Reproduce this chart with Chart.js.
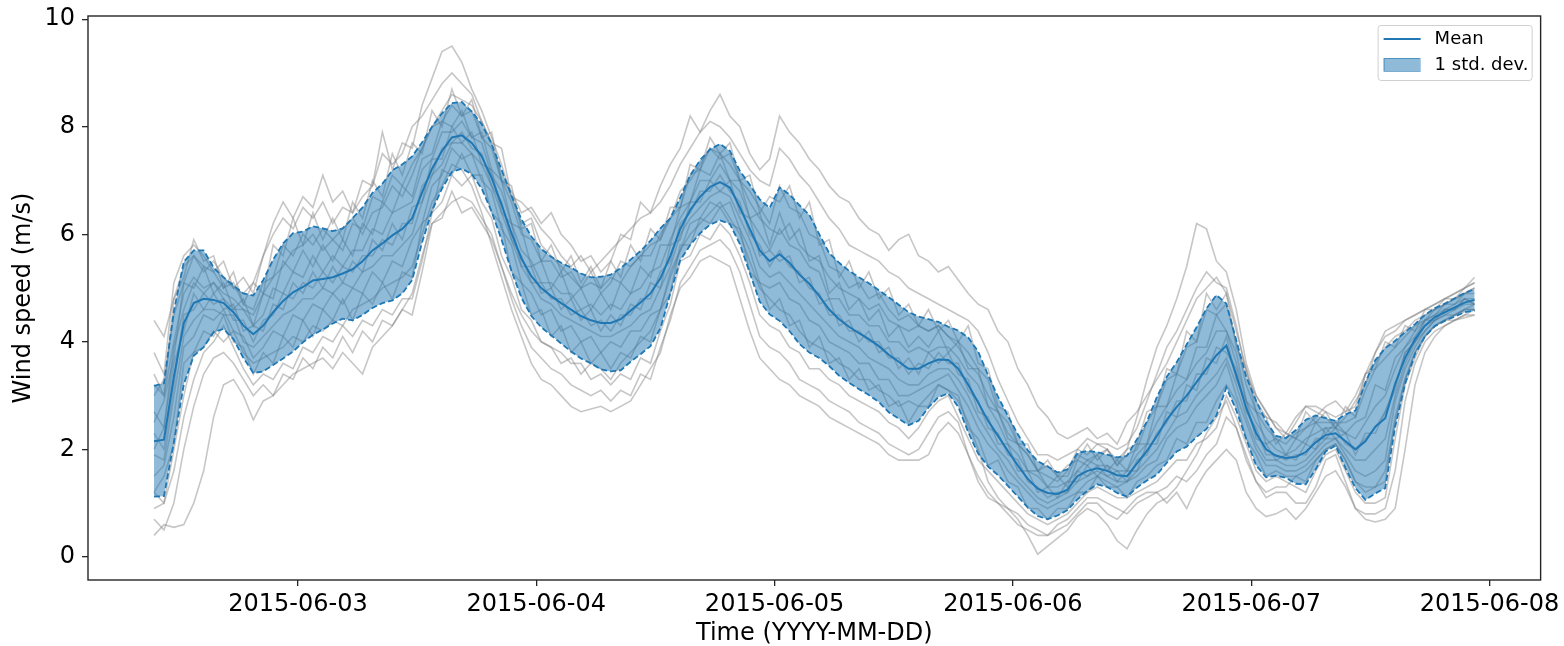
<!DOCTYPE html>
<html>
<head>
<meta charset="utf-8">
<script src="https://cdn.jsdelivr.net/npm/chart.js@4.4.1/dist/chart.umd.min.js"></script>
<style>
  html, body { margin: 0; padding: 0; background: #fff; }
  #wrap { width: 1564px; height: 646px; }
</style>
</head>
<body>
<div id="wrap"><canvas id="windChart" width="1564" height="646"></canvas></div>
<script>
// hourly samples, first one at 2015-06-02 09:30 (hours counted from 2015-06-02 00:00)
const firstSampleHour = 9.5;
const stepHours = 1;

const dayTickHours = [24, 48, 72, 96, 120, 144];
const dayTickLabels = ['2015-06-03', '2015-06-04', '2015-06-05', '2015-06-06', '2015-06-07', '2015-06-08'];
const yTickValues = [0, 2, 4, 6, 8, 10];

const meanSpeed = [
  2.15, 2.18, 3.35, 4.35, 4.72, 4.80, 4.78, 4.72, 4.55, 4.30,
  4.14, 4.30, 4.55, 4.76, 4.92, 5.02, 5.14, 5.17, 5.20, 5.27,
  5.35, 5.50, 5.70, 5.83, 5.98, 6.10, 6.30, 6.78, 7.22, 7.55,
  7.80, 7.84, 7.70, 7.45, 7.05, 6.55, 6.02, 5.55, 5.22, 5.00,
  4.85, 4.72, 4.60, 4.48, 4.40, 4.35, 4.35, 4.42, 4.58, 4.73,
  4.90, 5.18, 5.60, 6.10, 6.45, 6.70, 6.88, 6.97, 6.87, 6.50,
  6.10, 5.70, 5.50, 5.63, 5.47, 5.25, 5.08, 4.85, 4.60, 4.42,
  4.28, 4.16, 4.05, 3.92, 3.76, 3.63, 3.50, 3.50, 3.60, 3.67,
  3.66, 3.50, 3.20, 2.87, 2.53, 2.25, 1.97, 1.70, 1.45, 1.27,
  1.19, 1.17, 1.25, 1.50, 1.60, 1.65, 1.60, 1.52, 1.50, 1.74,
  1.97, 2.25, 2.55, 2.79, 3.00, 3.25, 3.50, 3.75, 3.93, 3.38,
  2.77, 2.30, 2.00, 1.88, 1.84, 1.86, 1.95, 2.13, 2.27, 2.30,
  2.15, 2.00, 2.15, 2.42, 2.58, 3.22, 3.70, 4.05, 4.30, 4.46,
  4.55, 4.64, 4.73, 4.78
];

const stdSpeed = [
  1.03, 1.05, 1.22, 1.14, 0.98, 0.90, 0.60, 0.48, 0.50, 0.60,
  0.72, 0.85, 0.98, 1.07, 1.10, 1.03, 1.01, 0.94, 0.86, 0.84,
  0.95, 1.00, 1.07, 1.11, 1.21, 1.20, 1.15, 0.93, 0.78, 0.70,
  0.64, 0.62, 0.58, 0.60, 0.63, 0.65, 0.70, 0.73, 0.74, 0.73,
  0.73, 0.75, 0.78, 0.79, 0.80, 0.86, 0.90, 0.95, 0.95, 0.96,
  0.98, 0.93, 0.70, 0.58, 0.65, 0.68, 0.70, 0.71, 0.68, 0.68,
  0.82, 0.95, 0.99, 1.24, 1.27, 1.29, 1.28, 1.15, 1.05, 1.05,
  1.04, 1.04, 1.04, 1.04, 1.07, 1.06, 1.05, 0.97, 0.82, 0.70,
  0.62, 0.71, 0.88, 0.95, 0.85, 0.73, 0.65, 0.58, 0.53, 0.51,
  0.49, 0.40, 0.38, 0.43, 0.37, 0.30, 0.30, 0.33, 0.38, 0.45,
  0.55, 0.72, 0.80, 0.83, 0.95, 1.02, 1.12, 1.12, 0.78, 0.65,
  0.58, 0.60, 0.52, 0.37, 0.37, 0.50, 0.60, 0.50, 0.31, 0.23,
  0.50, 0.72, 1.09, 1.24, 1.30, 0.80, 0.48, 0.28, 0.20, 0.17,
  0.16, 0.17, 0.18, 0.20
];

// individual ensemble members (grey lines)
const member01 = [
  4.4, 4.1, 4.8, 5.4, 5.6, 5.3, 5.5, 5.2, 5.0, 4.9, 5.1,
  5.6, 6.2, 6.6, 6.3, 6.7, 6.5, 7.1, 6.6, 6.8, 6.4,
  6.7, 6.9, 7.9, 7.2, 7.7, 7.6, 8.4, 8.9, 9.4, 9.5,
  9.2, 8.7, 8.3, 7.8, 7.3, 6.7, 6.2, 6.3, 5.8, 5.6,
  5.4, 5.2, 5.0, 5.3, 4.9, 5.1, 5.5, 5.4, 5.6, 5.8,
  5.9, 6.3, 6.8, 7.0, 7.3, 7.6, 7.5, 7.3, 7.0, 6.6,
  6.3, 6.1, 6.0, 6.2, 5.8, 5.6, 5.5, 5.2, 5.0, 4.9,
  4.8, 4.6, 4.7, 4.4, 4.3, 4.2, 4.3, 4.2, 4.3, 4.1,
  3.9, 3.6, 3.4, 3.0, 2.7, 2.3, 2.1, 1.9, 1.6, 1.5,
  1.4, 1.6, 2.0, 1.9, 2.1, 2.0, 1.8, 2.0, 2.6, 3.3,
  3.9, 4.3, 4.8, 5.4, 6.2, 6.1, 5.5, 5.3, 4.6, 3.6,
  3.0, 2.7, 2.4, 2.2, 2.5, 2.8, 2.7, 2.6, 2.4, 2.6,
  2.9, 3.2, 3.8, 4.2, 4.3, 4.4, 4.5, 4.6, 4.7, 4.8,
  4.9, 5.0, 5.1
];
const member02 = [
  3.2, 3.0, 4.0, 4.9, 5.2, 5.0, 5.1, 4.9, 4.8, 4.6, 4.5,
  4.9, 5.2, 5.4, 5.7, 5.8, 6.0, 5.7, 5.9, 6.1, 6.3,
  6.0, 6.4, 6.5, 6.9, 6.7, 7.1, 7.6, 8.0, 8.3, 8.6,
  8.5, 8.4, 8.1, 7.7, 7.0, 6.8, 6.4, 6.5, 6.2, 6.4,
  6.0, 5.8, 5.5, 5.6, 5.3, 5.5, 6.0, 5.9, 6.6, 6.4,
  6.9, 7.3, 7.6, 8.2, 7.9, 8.3, 8.6, 8.2, 8.0, 7.5,
  7.2, 7.4, 8.2, 7.9, 7.7, 7.4, 7.2, 6.9, 6.7, 6.6,
  6.3, 6.1, 6.0, 5.7, 5.9, 6.0, 5.6, 5.5, 5.3, 5.4,
  5.15, 4.9, 4.7, 4.6, 4.2, 4.0, 3.5, 3.2, 2.8, 2.6,
  2.3, 2.2, 2.3, 2.4, 2.2, 2.3, 2.1, 2.5, 2.7, 3.0,
  3.3, 3.6, 4.0, 4.4, 4.8, 5.0, 5.2, 4.9, 4.2, 3.5,
  2.9, 2.6, 2.5, 2.3, 2.2, 2.4, 2.6, 2.8, 2.9, 2.7,
  3.0, 3.4, 3.6, 3.9, 4.1, 4.2, 4.4, 4.5, 4.6, 4.7,
  4.8, 4.9, 5.0
];
const member03 = [
  3.0, 3.3, 4.5, 5.1, 5.6, 5.4, 5.3, 5.0, 5.1, 4.7, 4.6,
  5.1, 5.2, 5.8, 5.6, 6.0, 5.8, 6.1, 5.9, 5.7, 6.2,
  6.1, 6.7, 6.6, 7.1, 6.9, 7.3, 7.6, 8.0, 8.1, 8.4,
  8.2, 8.3, 7.8, 7.6, 7.0, 6.6, 6.0, 5.9, 5.5, 5.5,
  5.2, 5.3, 5.0, 5.1, 5.0, 5.2, 5.1, 5.4, 5.6, 5.6,
  6.0, 6.3, 6.5, 7.1, 7.2, 7.6, 7.4, 7.5, 7.0, 6.8,
  6.5, 6.2, 6.9, 6.5, 6.4, 6.0, 5.9, 5.4, 5.3, 5.0,
  5.1, 4.8, 4.9, 4.6, 4.4, 4.5, 4.3, 4.2, 4.3, 4.1,
  4.0, 3.8, 3.5, 3.3, 2.7, 2.5, 2.1, 1.9, 1.6, 1.7,
  1.5, 1.5, 1.9, 1.8, 1.9, 2.0, 1.7, 1.9, 2.0, 2.5,
  2.8, 3.3, 3.4, 3.9, 4.0, 4.6, 4.5, 4.7, 4.0, 3.2,
  2.7, 2.4, 2.2, 2.1, 2.3, 2.4, 2.5, 2.5, 2.5, 2.5,
  2.6, 3.1, 3.5, 3.7, 3.9, 4.1, 4.3, 4.4, 4.6, 4.7,
  4.8, 4.9, 5.0
];
const member04 = [
  2.3, 2.0, 3.2, 4.5, 4.6, 4.9, 4.7, 4.8, 4.4, 4.4, 4.0,
  4.4, 4.5, 4.9, 4.8, 5.1, 5.0, 5.3, 5.1, 5.4, 5.3,
  5.6, 5.6, 5.9, 5.8, 6.2, 6.2, 6.9, 7.1, 7.6, 7.7,
  7.9, 7.6, 7.5, 6.9, 6.6, 5.9, 5.6, 5.1, 5.1, 4.8,
  4.8, 4.5, 4.6, 4.3, 4.4, 4.2, 4.5, 4.5, 4.8, 4.8,
  5.3, 5.5, 6.2, 6.4, 6.8, 6.8, 7.1, 6.8, 6.6, 6.0,
  5.8, 5.4, 5.7, 5.4, 5.3, 5.0, 4.9, 4.5, 4.5, 4.2,
  4.2, 4.0, 4.0, 3.7, 3.7, 3.4, 3.6, 3.5, 3.8, 3.6,
  3.6, 3.1, 2.9, 2.4, 2.3, 1.9, 1.8, 1.4, 1.3, 1.1,
  1.2, 1.2, 1.6, 1.5, 1.7, 1.5, 1.6, 1.4, 1.8, 1.9,
  2.3, 2.5, 2.9, 2.9, 3.4, 3.4, 3.9, 3.8, 3.5, 2.7,
  2.4, 1.9, 1.9, 1.8, 1.9, 1.9, 2.2, 2.2, 2.4, 2.1,
  2.0, 2.2, 2.4, 2.7, 3.2, 3.8, 4.0, 4.3, 4.4, 4.6,
  4.6, 4.8, 4.7
];
const member05 = [
  1.5, 1.7, 2.6, 3.9, 4.1, 4.5, 4.4, 4.6, 4.2, 4.1, 3.7,
  3.9, 4.2, 4.1, 4.5, 4.4, 4.7, 4.6, 4.9, 4.7, 5.0,
  4.9, 5.3, 5.1, 5.5, 5.4, 5.9, 6.2, 6.9, 7.1, 7.6,
  7.4, 7.5, 7.0, 6.8, 6.1, 5.8, 5.1, 4.9, 4.5, 4.6,
  4.2, 4.3, 4.0, 4.1, 3.8, 4.0, 3.9, 4.2, 4.2, 4.5,
  4.6, 5.3, 5.7, 6.2, 6.3, 6.6, 6.5, 6.6, 6.1, 5.7,
  5.1, 5.0, 5.1, 4.8, 4.7, 4.4, 4.3, 4.0, 3.9, 3.8,
  3.6, 3.6, 3.3, 3.3, 3.0, 3.0, 3.1, 3.2, 3.3, 3.4,
  3.1, 2.8, 2.4, 2.1, 1.9, 1.6, 1.4, 1.2, 1.0, 0.9,
  1.0, 1.1, 1.2, 1.4, 1.5, 1.4, 1.3, 1.4, 1.5, 1.7,
  1.8, 2.2, 2.4, 2.5, 2.8, 3.0, 3.2, 3.6, 3.0, 2.5,
  2.0, 1.7, 1.7, 1.6, 1.6, 1.7, 1.9, 2.1, 2.2, 1.9,
  1.6, 1.5, 1.6, 1.8, 2.9, 3.5, 3.9, 4.2, 4.4, 4.5,
  4.5, 4.6, 4.7
];
const member06 = [
  0.9, 1.0, 1.6, 2.6, 3.3, 3.8, 4.0, 4.3, 3.9, 3.5, 3.2,
  3.4, 3.3, 3.6, 3.5, 3.9, 3.8, 4.1, 4.0, 4.3, 4.1,
  4.4, 4.3, 4.6, 4.5, 4.8, 4.8, 5.5, 6.4, 6.6, 7.1,
  6.9, 7.1, 6.6, 6.3, 5.6, 5.2, 4.6, 4.4, 4.0, 3.9,
  3.8, 3.6, 3.6, 3.3, 3.4, 3.2, 3.4, 3.3, 3.7, 3.6,
  4.2, 4.7, 5.5, 5.6, 6.0, 5.9, 6.2, 6.0, 5.6, 5.1,
  4.5, 4.3, 4.2, 3.9, 3.8, 3.5, 3.5, 3.3, 3.2, 3.0,
  2.9, 2.8, 2.7, 2.5, 2.4, 2.2, 2.4, 2.7, 2.9, 3.0,
  2.6, 2.2, 1.8, 1.6, 1.4, 1.2, 1.0, 0.8, 0.7, 0.6,
  0.7, 0.8, 1.0, 1.2, 1.3, 1.2, 1.1, 1.1, 1.2, 1.3,
  1.4, 1.6, 1.8, 1.8, 2.1, 2.2, 2.4, 3.0, 2.6, 2.1,
  1.6, 1.4, 1.5, 1.4, 1.3, 1.2, 1.6, 1.9, 2.0, 1.6,
  1.2, 1.0, 1.0, 1.1, 2.2, 3.2, 3.7, 4.1, 4.3, 4.4,
  4.4, 4.5, 4.6
];
const member07 = [
  0.4, 0.6, 0.55, 0.6, 1.0, 1.6, 2.6, 3.2, 3.3, 3.0, 2.55,
  2.9, 3.0, 3.2, 3.4, 3.5, 3.6, 3.7, 3.5, 3.8, 3.6,
  3.4, 3.9, 4.1, 4.3, 4.6, 4.5, 5.3, 6.2, 6.3, 6.8,
  6.4, 6.5, 6.2, 5.9, 5.4, 4.9, 4.5, 4.2, 4.0, 3.9,
  3.6, 3.7, 3.4, 3.6, 3.5, 3.3, 3.6, 3.8, 4.0, 4.2,
  4.6, 5.2, 5.7, 6.0, 6.2, 6.4, 6.6, 6.3, 6.0, 5.5,
  5.0, 4.8, 4.6, 4.5, 4.2, 4.0, 3.9, 3.8, 3.6, 3.5,
  3.3, 3.3, 3.1, 3.0, 2.8, 2.9, 2.8, 3.0, 3.2, 3.1,
  2.9, 2.5, 2.0, 1.4, 1.1, 0.9, 0.7, 0.4, 0.05, 0.2,
  0.35, 0.5, 0.75, 0.9, 0.8, 0.6, 0.3, 0.15, 0.5, 0.8,
  1.0, 1.1, 1.3, 1.6, 1.9, 2.3, 2.6, 2.9, 2.4, 1.8,
  1.4, 1.2, 1.3, 1.3, 1.5, 1.6, 1.8, 2.0, 2.1, 1.8,
  1.4, 1.2, 1.3, 1.4, 2.6, 3.3, 3.8, 4.1, 4.3, 4.4,
  4.5, 4.6, 4.6
];
const member08 = [
  1.2, 1.0, 2.0, 3.0, 3.8, 3.9, 4.2, 4.0, 4.2, 3.8, 3.6,
  3.7, 3.8, 3.9, 4.1, 4.0, 4.3, 4.2, 4.4, 4.3, 4.6,
  4.7, 4.8, 5.0, 5.1, 5.2, 5.4, 6.0, 6.6, 6.9, 7.3,
  7.2, 6.9, 6.4, 5.8, 5.2, 4.6, 4.1, 3.6, 3.3, 3.2,
  3.0, 2.8, 2.7, 2.75, 2.8, 2.7, 2.8, 2.9, 3.2, 3.5,
  3.8, 4.5, 5.0, 5.2, 5.5, 5.6, 5.5, 5.4, 4.8, 4.2,
  3.7, 3.5, 3.3, 3.2, 3.0, 2.9, 2.8, 2.6, 2.5, 2.4,
  2.3, 2.2, 2.1, 1.9, 1.8, 1.8, 1.8, 1.9, 2.3, 2.5,
  2.3, 1.9, 1.5, 1.2, 1.0, 0.8, 0.6, 0.5, 0.4, 0.4,
  0.5, 0.6, 0.8, 1.0, 1.0, 0.8, 0.7, 0.9, 1.1, 1.2,
  1.2, 1.0, 1.2, 0.9, 1.3, 1.6, 1.8, 2.0, 1.8, 1.2,
  0.9, 0.75, 0.8, 0.9, 0.7, 0.9, 1.2, 1.5, 1.6, 1.3,
  0.9, 0.7, 0.65, 0.7, 0.9, 2.0, 3.2, 3.8, 4.1, 4.3,
  4.4, 4.45, 4.5
];
const member09 = [
  2.7, 2.4, 3.9, 4.6, 5.1, 4.9, 5.1, 4.8, 4.6, 4.6, 4.3,
  4.5, 5.0, 4.9, 5.3, 5.2, 5.6, 5.3, 5.6, 5.4, 5.7,
  5.7, 6.1, 6.0, 6.4, 6.5, 6.6, 7.2, 7.4, 7.9, 7.9,
  8.1, 7.8, 7.7, 7.1, 6.8, 6.2, 5.7, 5.5, 5.1, 5.1,
  4.9, 4.9, 4.6, 4.7, 4.5, 4.7, 4.6, 4.9, 5.0, 5.3,
  5.4, 5.9, 6.3, 6.6, 7.0, 7.0, 7.3, 7.0, 6.8, 6.3,
  6.0, 5.7, 6.1, 5.8, 5.7, 5.4, 5.3, 4.8, 4.8, 4.5,
  4.5, 4.3, 4.3, 4.0, 4.0, 3.8, 3.9, 3.8, 3.9, 3.9,
  3.7, 3.4, 3.2, 2.8, 2.5, 2.1, 1.9, 1.6, 1.5, 1.3,
  1.3, 1.4, 1.6, 1.8, 1.7, 1.7, 1.6, 1.6, 1.9, 2.1,
  2.5, 2.8, 3.1, 3.3, 3.6, 3.8, 4.2, 4.2, 3.6, 2.9,
  2.5, 2.2, 2.0, 1.9, 2.0, 2.2, 2.3, 2.4, 2.4, 2.3,
  2.2, 2.5, 2.8, 3.0, 3.5, 3.9, 4.1, 4.4, 4.5, 4.6,
  4.7, 4.8, 4.8
];
const member10 = [
  1.9, 1.8, 3.0, 4.1, 4.4, 4.6, 4.6, 4.5, 4.5, 4.0, 3.9,
  4.1, 4.3, 4.5, 4.6, 4.8, 4.8, 5.0, 4.9, 5.1, 5.0,
  5.3, 5.4, 5.6, 5.6, 5.8, 6.0, 6.6, 7.1, 7.3, 7.7,
  7.7, 7.5, 7.3, 6.9, 6.4, 5.9, 5.4, 5.1, 4.8, 4.7,
  4.5, 4.4, 4.3, 4.2, 4.1, 4.1, 4.2, 4.3, 4.5, 4.6,
  5.0, 5.4, 6.0, 6.3, 6.5, 6.7, 6.8, 6.7, 6.3, 5.9,
  5.4, 5.2, 5.3, 5.1, 4.9, 4.7, 4.5, 4.3, 4.1, 4.0,
  3.9, 3.7, 3.6, 3.5, 3.3, 3.2, 3.2, 3.4, 3.5, 3.5,
  3.3, 3.0, 2.6, 2.3, 2.0, 1.8, 1.5, 1.3, 1.1, 1.0,
  1.1, 1.2, 1.4, 1.5, 1.6, 1.5, 1.4, 1.4, 1.6, 1.8,
  2.0, 2.3, 2.6, 2.7, 3.0, 3.2, 3.4, 3.7, 3.2, 2.6,
  2.1, 1.8, 1.8, 1.7, 1.7, 1.8, 2.0, 2.2, 2.2, 2.0,
  1.8, 1.8, 2.0, 2.2, 3.0, 3.6, 4.0, 4.2, 4.4, 4.5,
  4.6, 4.7, 4.7
];
const member11 = [
  3.4, 3.0, 4.8, 5.2, 5.9, 5.5, 5.6, 5.0, 5.3, 4.7, 5.1,
  4.9, 5.8, 5.6, 6.3, 5.8, 6.4, 5.9, 6.3, 5.9, 6.6,
  6.3, 7.0, 6.7, 7.5, 7.1, 7.7, 7.5, 8.3, 8.0, 8.7,
  8.2, 8.5, 7.8, 7.9, 7.0, 6.9, 6.1, 6.2, 5.5, 5.8,
  5.3, 5.6, 5.1, 5.4, 5.0, 5.5, 5.2, 5.8, 5.5, 6.1,
  5.9, 6.5, 6.5, 7.3, 7.2, 7.8, 7.5, 7.7, 7.0, 7.1,
  6.4, 6.7, 6.6, 6.9, 6.3, 6.6, 5.8, 5.9, 5.2, 5.5,
  5.0, 5.3, 4.8, 5.0, 4.5, 4.7, 4.3, 4.6, 4.2, 4.4,
  4.0, 4.3, 3.6, 3.5, 2.8, 2.7, 2.1, 2.1, 1.6, 1.8,
  1.5, 1.7, 1.8, 2.1, 1.8, 2.0, 1.7, 2.0, 2.1, 2.7,
  2.8, 3.5, 3.4, 4.2, 4.0, 4.9, 4.6, 4.9, 3.9, 3.5,
  2.7, 2.6, 2.1, 2.3, 2.2, 2.7, 2.5, 2.7, 2.4, 2.8,
  2.6, 3.4, 3.5, 4.0, 3.9, 4.3, 4.2, 4.6, 4.6, 4.8,
  4.8, 5.0, 5.1
];
const member12 = [
  2.5, 2.9, 3.7, 5.1, 5.0, 5.4, 4.9, 5.1, 4.6, 4.8, 4.3,
  4.9, 4.8, 5.5, 5.3, 5.7, 5.4, 5.8, 5.5, 5.9, 5.6,
  6.2, 6.0, 6.6, 6.4, 6.9, 6.7, 7.4, 7.5, 8.1, 8.0,
  8.3, 7.8, 7.9, 7.2, 7.0, 6.2, 6.1, 5.4, 5.5, 5.0,
  5.3, 4.8, 5.0, 4.6, 4.9, 4.6, 5.1, 4.9, 5.4, 5.2,
  5.8, 5.8, 6.5, 6.6, 7.2, 7.1, 7.5, 7.0, 7.0, 6.3,
  6.4, 5.8, 6.4, 5.9, 6.1, 5.5, 5.6, 4.9, 5.1, 4.6,
  4.8, 4.4, 4.6, 4.1, 4.3, 3.9, 4.1, 3.9, 4.2, 3.8,
  4.0, 3.5, 3.5, 2.8, 2.7, 2.2, 2.1, 1.6, 1.6, 1.3,
  1.5, 1.3, 1.8, 1.7, 1.9, 1.6, 1.8, 1.6, 2.1, 2.1,
  2.8, 2.8, 3.4, 3.3, 3.9, 3.9, 4.5, 4.2, 3.8, 2.9,
  2.7, 2.1, 2.2, 1.9, 2.2, 2.1, 2.5, 2.3, 2.5, 2.3,
  2.5, 2.6, 3.2, 3.1, 3.7, 3.9, 4.2, 4.4, 4.5, 4.7,
  4.7, 4.9, 4.9
];
const member13 = [
  2.0, 2.4, 3.6, 4.2, 4.9, 4.6, 4.9, 4.6, 4.7, 4.2, 4.3,
  4.2, 4.7, 4.6, 5.1, 4.9, 5.3, 5.0, 5.4, 5.1, 5.5,
  5.3, 5.9, 5.7, 6.2, 5.9, 6.5, 6.6, 7.4, 7.4, 8.0,
  7.7, 7.9, 7.3, 7.2, 6.4, 6.2, 5.4, 5.4, 4.9, 5.0,
  4.6, 4.8, 4.4, 4.6, 4.2, 4.5, 4.3, 4.7, 4.6, 5.1,
  5.0, 5.8, 5.9, 6.6, 6.6, 7.0, 6.8, 7.0, 6.4, 6.3,
  5.6, 5.7, 5.5, 5.6, 5.1, 5.2, 4.7, 4.8, 4.3, 4.4,
  4.0, 4.2, 3.8, 3.9, 3.5, 3.7, 3.4, 3.8, 3.6, 3.8,
  3.4, 3.3, 2.7, 2.6, 2.1, 2.1, 1.6, 1.6, 1.2, 1.3,
  1.1, 1.4, 1.4, 1.7, 1.5, 1.7, 1.4, 1.6, 1.6, 2.1,
  2.1, 2.7, 2.6, 3.2, 3.1, 3.7, 3.6, 4.1, 3.3, 2.9,
  2.2, 2.1, 1.8, 1.9, 1.8, 2.1, 2.0, 2.4, 2.2, 2.3,
  1.9, 2.3, 2.3, 2.7, 3.1, 3.8, 4.0, 4.4, 4.4, 4.6,
  4.6, 4.8, 4.7
];
const member14 = [
  1.2, 1.5, 2.1, 3.6, 3.8, 4.2, 4.1, 4.5, 4.0, 3.9, 3.4,
  3.8, 3.6, 4.1, 3.9, 4.4, 4.1, 4.6, 4.4, 4.8, 4.4,
  4.9, 4.7, 5.1, 4.8, 5.3, 5.2, 6.2, 6.4, 7.2, 7.1,
  7.5, 7.1, 7.1, 6.4, 6.2, 5.3, 5.1, 4.5, 4.6, 4.1,
  4.3, 3.8, 4.0, 3.6, 3.8, 3.5, 3.8, 3.7, 4.1, 4.0,
  4.6, 4.9, 5.8, 5.8, 6.3, 6.2, 6.5, 6.2, 6.1, 5.3,
  5.1, 4.6, 4.8, 4.3, 4.4, 3.9, 4.1, 3.6, 3.7, 3.3,
  3.5, 3.1, 3.2, 2.8, 2.9, 2.5, 2.8, 2.8, 3.2, 3.1,
  3.0, 2.4, 2.2, 1.7, 1.8, 1.4, 1.3, 0.9, 0.9, 0.7,
  0.9, 0.9, 1.2, 1.2, 1.5, 1.3, 1.3, 1.1, 1.4, 1.5,
  1.7, 1.8, 2.2, 2.1, 2.5, 2.5, 2.9, 3.2, 2.9, 2.2,
  1.9, 1.5, 1.6, 1.5, 1.5, 1.4, 1.8, 2.0, 2.1, 1.8,
  1.4, 1.3, 1.3, 1.6, 2.5, 3.3, 3.8, 4.1, 4.3, 4.4,
  4.5, 4.6, 4.6
];
const member15 = [
  3.8, 3.4, 5.1, 5.6, 5.8, 5.6, 5.3, 5.5, 5.0, 5.2, 4.9,
  5.6, 6.0, 6.3, 6.1, 6.5, 6.3, 6.6, 6.2, 6.5, 6.4,
  7.0, 6.9, 7.5, 7.3, 7.5, 8.0, 8.2, 8.5, 8.8, 9.0,
  8.8, 8.6, 8.1, 7.7, 7.6, 6.7, 6.6, 6.4, 6.1, 5.9,
  5.6, 5.4, 5.6, 5.3, 5.5, 5.7, 5.9, 6.1, 6.3, 6.4,
  6.6, 6.9, 7.3, 7.6, 7.9, 8.1, 8.0, 7.8, 7.5, 7.2,
  7.0, 6.9, 7.6, 7.4, 7.1, 6.9, 6.6, 6.3, 6.1, 5.8,
  5.7, 5.6, 5.5, 5.3, 5.2, 5.0, 4.9, 4.8, 4.7, 4.6,
  4.5, 4.4, 4.2, 3.8, 3.3, 2.9, 2.5, 2.2, 1.9, 1.9,
  1.8, 1.9, 2.0, 2.2, 2.1, 2.1, 2.0, 2.1, 2.4, 2.9,
  3.4, 3.9, 4.2, 4.6, 5.0, 5.3, 5.1, 5.0, 4.3, 3.4,
  3.0, 2.7, 2.4, 2.3, 2.6, 2.8, 2.8, 2.7, 2.6, 2.7,
  2.8, 3.4, 3.8, 4.1, 4.2, 4.4, 4.5, 4.6, 4.7, 4.8,
  4.9, 5.0, 5.2
];
const member16 = [
  0.7, 0.5, 1.0, 2.0, 2.8, 3.4, 3.7, 3.8, 3.6, 3.3, 3.0,
  3.2, 3.0, 3.4, 3.3, 3.7, 3.5, 3.9, 3.7, 4.1, 3.8,
  4.2, 4.0, 4.4, 4.3, 4.6, 4.9, 5.6, 6.2, 6.4, 6.6,
  6.7, 6.6, 6.3, 6.0, 5.4, 4.8, 4.3, 3.9, 3.7, 3.5,
  3.4, 3.2, 3.1, 3.0, 3.1, 2.9, 3.1, 3.0, 3.4, 3.3,
  3.9, 4.4, 5.1, 5.4, 5.7, 5.8, 5.9, 5.7, 5.3, 4.7,
  4.1, 3.9, 3.8, 3.6, 3.3, 3.2, 3.1, 2.9, 2.8, 2.7,
  2.5, 2.4, 2.3, 2.1, 2.0, 1.9, 2.0, 2.3, 2.6, 2.7,
  2.5, 1.9, 1.4, 1.1, 1.0, 0.9, 0.8, 0.6, 0.5, 0.4,
  0.6, 0.7, 0.9, 1.1, 1.1, 1.0, 0.9, 0.8, 1.0, 1.1,
  1.2, 1.3, 1.5, 1.4, 1.6, 1.9, 2.1, 2.6, 2.4, 1.9,
  1.4, 1.1, 1.2, 1.2, 1.0, 1.0, 1.3, 1.8, 1.9, 1.4,
  0.9, 0.8, 0.8, 0.9, 1.6, 2.9, 3.6, 4.0, 4.2, 4.3,
  4.4, 4.5, 4.5
];
const members = [member01, member02, member03, member04, member05, member06, member07, member08,
                 member09, member10, member11, member12, member13, member14, member15, member16];

[stdSpeed, ...members].forEach((arr, k) => {
  if (arr.length !== meanSpeed.length) throw new Error('series ' + k + ' has ' + arr.length + ' values, expected ' + meanSpeed.length);
});

const toPoints = arr => arr.map((v, i) => ({ x: firstSampleHour + i * stepHours, y: v }));
const upperBand = meanSpeed.map((m, i) => m + stdSpeed[i]);
const lowerBand = meanSpeed.map((m, i) => m - stdSpeed[i]);

const blue = '#1f77b4';
const bandFill = 'rgba(31, 119, 180, 0.5)';
const FONT = "'DejaVu Sans', 'Liberation Sans', sans-serif";

const datasets = [];
datasets.push({
  label: 'Mean', data: toPoints(meanSpeed), borderColor: blue, borderWidth: 2,
  pointRadius: 0, fill: false, order: 0
});
datasets.push({
  label: '1 std. dev.', data: toPoints(upperBand), borderColor: blue, borderWidth: 1.8,
  borderDash: [6, 3], pointRadius: 0, backgroundColor: bandFill, fill: '+1', order: 2
});
datasets.push({
  label: 'lower', data: toPoints(lowerBand), borderColor: blue, borderWidth: 1.8,
  borderDash: [6, 3], pointRadius: 0, fill: false, order: 1
});
members.forEach((m, k) => {
  datasets.push({
    label: 'member ' + (k + 1), data: toPoints(m), borderColor: 'rgba(128, 128, 128, 0.45)',
    borderWidth: 1.6, pointRadius: 0, fill: false, order: 3
  });
});

// matplotlib-like frame around the axes
const framePlugin = {
  id: 'frame',
  afterDraw(chart) {
    const a = chart.chartArea, ctx = chart.ctx;
    ctx.save();
    ctx.strokeStyle = '#262626';
    ctx.lineWidth = 1.4;
    ctx.strokeRect(a.left, a.top, a.right - a.left, a.bottom - a.top);
    ctx.restore();
  }
};

// legend box in the upper right corner
const legendPlugin = {
  id: 'cornerLegend',
  afterDraw(chart) {
    const a = chart.chartArea, ctx = chart.ctx;
    const w = 154, h = 55;
    const x = a.right - 9 - w, y = a.top + 9;
    ctx.save();
    ctx.beginPath();
    ctx.roundRect(x + 0.5, y + 0.5, w, h, 3);
    ctx.fillStyle = 'rgba(255,255,255,0.8)';
    ctx.fill();
    ctx.strokeStyle = '#d0d0d0';
    ctx.lineWidth = 1;
    ctx.stroke();

    ctx.strokeStyle = blue;
    ctx.lineWidth = 2;
    ctx.beginPath();
    ctx.moveTo(x + 6, y + 14);
    ctx.lineTo(x + 43, y + 14);
    ctx.stroke();

    ctx.fillStyle = bandFill;
    ctx.fillRect(x + 6, y + 33, 36, 13);
    ctx.strokeStyle = 'rgba(31,119,180,0.6)';
    ctx.lineWidth = 1;
    ctx.strokeRect(x + 6.5, y + 33.5, 36, 13);

    ctx.fillStyle = '#000';
    ctx.font = '18px ' + FONT;
    ctx.textBaseline = 'middle';
    ctx.fillText('Mean', x + 57, y + 14);
    ctx.fillText('1 std. dev.', x + 57, y + 40);
    ctx.restore();
  }
};

const ctx = document.getElementById('windChart').getContext('2d');
const windChart = new Chart(ctx, {
  type: 'line',
  data: { datasets: datasets },
  plugins: [framePlugin, legendPlugin],
  options: {
    responsive: false,
    animation: false,
    devicePixelRatio: 1,
    layout: { padding: { left: 0, top: 16, right: 22, bottom: 0 } },
    plugins: {
      legend: { display: false },
      tooltip: { enabled: false }
    },
    elements: { line: { tension: 0 } },
    scales: {
      x: {
        type: 'linear',
        min: 2.85,
        max: 149.15,
        afterBuildTicks: scale => { scale.ticks = dayTickHours.map(v => ({ value: v })); },
        afterFit: scale => { scale.height = 66; },
        ticks: {
          autoSkip: false, maxRotation: 0, padding: 4, color: '#000',
          font: { family: FONT, size: 24 },
          callback: (value, index) => dayTickLabels[index]
        },
        grid: { drawOnChartArea: false, tickLength: 6, color: '#262626', lineWidth: 1.3 },
        border: { display: false },
        title: {
          display: true, text: 'Time (YYYY-MM-DD)', color: '#000',
          font: { family: FONT, size: 24, lineHeight: 1 },
          padding: { top: 0, bottom: 0 }
        }
      },
      y: {
        type: 'linear',
        min: -0.43,
        max: 10.06,
        afterBuildTicks: scale => { scale.ticks = yTickValues.map(v => ({ value: v })); },
        afterFit: scale => {
          scale.width = 88;
          scale.paddingTop = 0;
          scale.paddingBottom = 0;
        },
        ticks: {
          padding: 7, color: '#000',
          font: { family: FONT, size: 24 }
        },
        grid: { drawOnChartArea: false, tickLength: 6, color: '#262626', lineWidth: 1.3 },
        border: { display: false },
        title: {
          display: true, text: 'Wind speed (m/s)', color: '#000',
          font: { family: FONT, size: 24, lineHeight: 1 },
          padding: { top: 12, bottom: 0 }
        }
      }
    }
  }
});
</script>
</body>
</html>
